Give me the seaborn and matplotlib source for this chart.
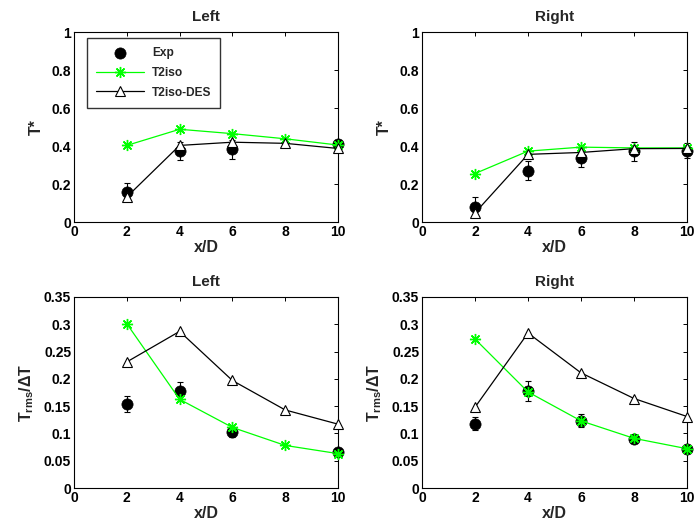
#!/usr/bin/env python3
# -*- coding: utf-8 -*-
"""
Mean and rms temperature along x/D, left and right side
"""
import matplotlib
matplotlib.use('Agg')
import matplotlib.pyplot as plt
import seaborn as sns
import numpy as np

# x stations
x_pos = [2, 4, 6, 8, 10]
x_exp_left = [2, 4, 6, 10]
x_exp_right = [2, 4, 6, 8, 10]

# T* - left
tmean_left_exp = [0.158, 0.375, 0.384, 0.41]
tmean_left_err = [0.048, 0.048, 0.05, 0.02]
tmean_left_t2iso = [0.403, 0.488, 0.465, 0.438, 0.405]
tmean_left_des = [0.132, 0.403, 0.42, 0.414, 0.387]

# T* - right
tmean_right_exp = [0.079, 0.27, 0.338, 0.373, 0.375]
tmean_right_err = [0.05, 0.05, 0.05, 0.05, 0.04]
tmean_right_t2iso = [0.255, 0.373, 0.394, 0.39, 0.39]
tmean_right_des = [0.048, 0.356, 0.366, 0.386, 0.387]

# Trms/dT - left
trms_left_exp = [0.154, 0.177, 0.102, 0.066]
trms_left_err = [0.015, 0.018, 0.008, 0.005]
trms_left_t2iso = [0.301, 0.1625, 0.111, 0.078, 0.063]
trms_left_des = [0.231, 0.287, 0.197, 0.143, 0.117]

# Trms/dT - right
trms_right_exp = [0.118, 0.178, 0.123, 0.090, 0.072]
trms_right_err = [0.012, 0.018, 0.012, 0.006, 0.004]
trms_right_t2iso = [0.273, 0.176, 0.123, 0.091, 0.072]
trms_right_des = [0.148, 0.284, 0.211, 0.164, 0.131]

sns.set_style('white')
plt.rcParams['font.family'] = ['Liberation Sans', 'DejaVu Sans']
plt.rcParams['font.weight'] = 'bold'
plt.rcParams['mathtext.fontset'] = 'custom'
plt.rcParams['mathtext.rm'] = 'Liberation Sans:bold'
plt.rcParams['mathtext.bf'] = 'Liberation Sans:bold'
plt.rcParams['mathtext.it'] = 'Liberation Sans:bold'

fig = plt.figure(figsize=(6.94, 5.29), dpi=100)
W, H = 694, 529
boxes = [(74, 32, 338, 222), (422, 32, 687, 222),
         (74, 297, 338, 488), (422, 297, 687, 488)]
axes = [fig.add_axes([l / W, 1 - b / H, (r - l) / W, (b - t) / H]) for (l, t, r, b) in boxes]

panels = [
    ('Left', x_exp_left, tmean_left_exp, tmean_left_err, tmean_left_t2iso, tmean_left_des, 'T*', 1.0, 0.2),
    ('Right', x_exp_right, tmean_right_exp, tmean_right_err, tmean_right_t2iso, tmean_right_des, 'T*', 1.0, 0.2),
    ('Left', x_exp_left, trms_left_exp, trms_left_err, trms_left_t2iso, trms_left_des,
     r'$\mathbf{T_{rms}/\Delta T}$', 0.35, 0.05),
    ('Right', x_exp_right, trms_right_exp, trms_right_err, trms_right_t2iso, trms_right_des,
     r'$\mathbf{T_{rms}/\Delta T}$', 0.35, 0.05),
]

green = '#00ff00'
asterisk = (8, 2, 0)
for i, (ax, p) in enumerate(zip(axes, panels)):
    title, xe, ye, err, yt, yd, ylab, ymax, ystep = p
    ax.errorbar(xe, ye, yerr=err, fmt='none', ecolor='black', elinewidth=0.8, capsize=2.5,
                capthick=0.8, clip_on=False)
    sns.scatterplot(x=xe, y=ye, ax=ax, color='black', s=65, edgecolor='black', linewidth=0.5,
                    label='Exp', zorder=3, clip_on=False)
    sns.lineplot(x=x_pos, y=yt, ax=ax, color=green, marker=asterisk, markersize=8, markeredgecolor=green,
                 markeredgewidth=1.0, linewidth=0.9, label='T2iso', zorder=4, clip_on=False)
    sns.lineplot(x=x_pos, y=yd, ax=ax, color='black', marker='^', markersize=7.5, markeredgecolor='black',
                 markerfacecolor='white', markeredgewidth=0.8, linewidth=0.9, label='T2iso-DES',
                 zorder=4, clip_on=False)

    ax.set_xlim(0, 10)
    ax.set_ylim(0, ymax)
    ax.set_xticks([0, 2, 4, 6, 8, 10])
    yt_vals = np.round(np.arange(0, ymax + 1e-9, ystep), 2)
    ax.set_yticks(yt_vals)
    ax.set_yticklabels(['%g' % v for v in yt_vals])
    ax.tick_params(direction='in', length=3, width=0.7, top=True, right=True, labelsize=10, pad=2,
                   colors='black')
    for lab in ax.get_xticklabels() + ax.get_yticklabels():
        lab.set_fontweight('bold')
    for s in ax.spines.values():
        s.set_visible(True)
        s.set_color('black')
        s.set_linewidth(0.8)
        s.set_zorder(1)
    ax.set_title(title, fontsize=11, fontweight='bold', pad=8)
    ax.set_xlabel('x/D', fontsize=11.5, fontweight='bold', labelpad=1)
    ax.set_ylabel(ylab, fontsize=11.5, fontweight='bold', labelpad=6)

    if i == 0:
        leg = ax.legend(loc='upper left', bbox_to_anchor=(0.049, 0.968), borderaxespad=0, frameon=True,
                        fancybox=False, edgecolor='black', borderpad=0.75, labelspacing=0.65,
                        handlelength=4.0, handletextpad=0.7, prop={'weight': 'bold', 'size': 8.6})
        leg.get_frame().set_linewidth(1.0)
        leg.set_zorder(10)
    else:
        ax.get_legend().remove()

plt.savefig('out.png', dpi=100)
